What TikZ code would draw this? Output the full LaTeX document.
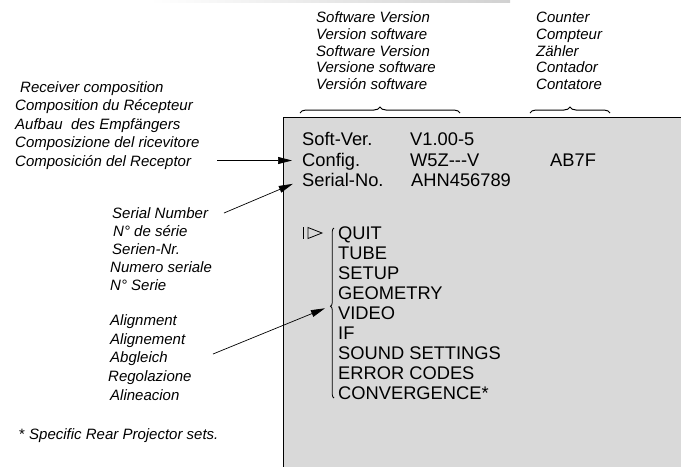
\documentclass[tikz,border=0pt]{standalone}
\usepackage{fontspec}
\setmainfont{Liberation Sans}
\usetikzlibrary{arrows.meta,decorations.pathreplacing}

\definecolor{screengray}{HTML}{D9D9D9}

\tikzset{
  lbl/.style={anchor=base west, inner sep=0pt, font=\itshape\fontsize{15}{18}\selectfont},
  scr/.style={anchor=base west, inner sep=0pt, font=\fontsize{18.3}{22}\selectfont},
  pointer/.style={-{Triangle[length=14pt,width=7pt]}, line width=0.7pt, shorten >=10pt},
  curly/.style={decorate, decoration={brace, amplitude=#1}, line width=1pt},
  curly/.default=6pt
}

\begin{document}
\begin{tikzpicture}[x=1pt, y=-1pt]
  \useasboundingbox (0,0) rectangle (681,467);

  % scan strip
  \shade[left color=white, right color=black!18] (150,0) rectangle (510,2.5);

  % screen
  \fill[screengray] (283,117) rectangle (681,467);
  \draw[line width=0.8pt] (681,117) -- (283,117) -- (283,467);

  % headings above the screen
  \foreach \txt [count=\i from 0] in {Software Version, Version software, Software Version, Versione software, Versión software}
    \node[lbl] (sw\i) at (316, {22.5+16.8*\i}) {\txt};
  \foreach \txt [count=\i from 0] in {Counter, Compteur, Zähler, Contador, Contatore}
    \node[lbl] (cnt\i) at (536, {22.5+16.8*\i}) {\txt};
  \draw[curly] (300,113) -- (460,113);
  \draw[curly] (530,113) -- (610,113);

  % screen contents
  \node[scr] (sv)     at (302,145.5) {Soft-Ver.};
  \node[scr] (cfg)    at (302,166)   {Config.};
  \node[scr] (ser)    at (302,186.5) {Serial-No.};
  \node[scr] (svval)  at (410,145.5) {V1.00-5};
  \node[scr] (cfgval) at (410,166)   {W5Z-{}-{}-V};
  \node[scr] (serval) at (411,186.5) {AHN456789};
  \node[scr] (cntval) at (550,166)   {AB7F};

  % cursor and menu
  \draw[line width=0.8pt] (303,227) -- (303,239);
  \draw[line width=0.8pt] (308,227.5) -- (322,233) -- (308,238.5) -- cycle;
  \foreach \txt [count=\i from 0] in {QUIT, TUBE, SETUP, GEOMETRY, VIDEO, IF, SOUND SETTINGS, ERROR CODES, CONVERGENCE*}
    \node[scr] (menu\i) at (338, {239.5+20*\i}) {\txt};
  \draw[curly=3.5pt, line width=0.8pt, decoration={aspect=0.54}] (334,398) -- (334,228);
  \coordinate (menu-tip) at (330.5,306);

  % left-hand labels
  \foreach \dx/\txt [count=\i from 0] in {5/Receiver composition, 0/Composition du Récepteur, 0/Aufbau\ \ des Empfängers, 0/Composizione del ricevitore, 0/Composición del Receptor}
    \node[lbl] (rcv\i) at ({15+\dx}, {92.4+18.5*\i}) {\txt};
  \foreach \dx/\txt [count=\i from 0] in {2/Serial Number, 3/N° de série, 2/Serien-Nr., 0/Numero seriale, 0/N° Serie}
    \node[lbl] (sn\i) at ({110+\dx}, {218.4+18*\i}) {\txt};
  \foreach \dx/\txt [count=\i from 0] in {0/Alignment, 0/Alignement, 0/Abgleich, -2/Regolazione, 0/Alineacion}
    \node[lbl] (aln\i) at ({110+\dx}, {325.4+18.75*\i}) {\txt};

  % footnote
  \node[lbl] (note) at (19,439) {{\upshape *} Specific Rear Projector sets.};

  % pointers
  \coordinate (rcv-tail) at (217,160.5);
  \coordinate (ser-tail) at (224,213);
  \coordinate (aln-tail) at (213,354);
  \draw[pointer] (rcv-tail) -- (rcv-tail -| cfg.west);
  \draw[pointer] (ser-tail) -- (ser.west);
  \draw[pointer, shorten >=6pt] (aln-tail) -- (menu-tip);
\end{tikzpicture}
\end{document}
